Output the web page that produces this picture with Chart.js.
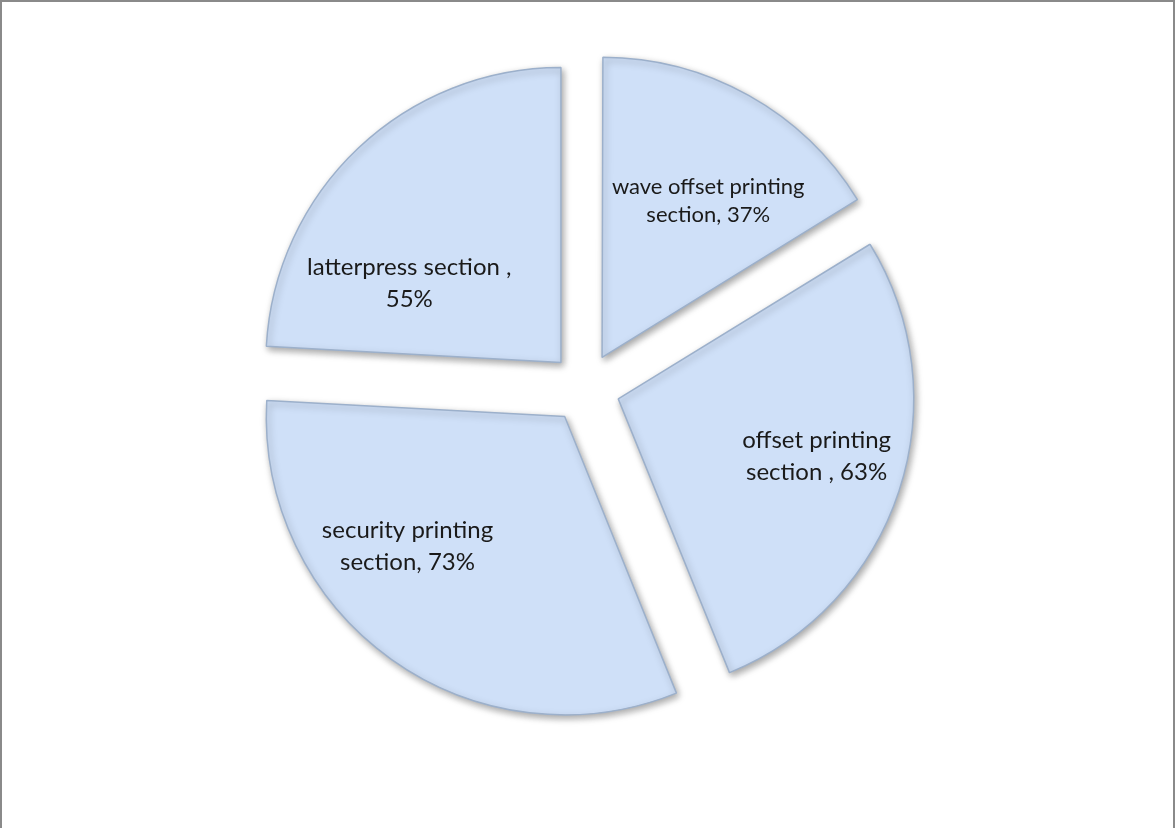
<!DOCTYPE html>
<html lang="en">
<head>
  <meta charset="UTF-8">
  <title>Printing Sections</title>
  <style>
    body {
      margin: 0;
      background: #ffffff;
    }

    .wrap {
      position: relative;
      width: 1175px;
      height: 828px;
    }

    .frame {
      position: absolute;
      left: 0;
      top: 0;
      width: 1171px;
      height: 826px;
      border-top: 2px solid #8a8a8a;
      border-left: 2px solid #8a8a8a;
      border-right: 2px solid #8a8a8a;
      pointer-events: none;
    }
  </style>
</head>
<body>
  <div class="wrap">
    <canvas id="pieChart" width="1175" height="828"></canvas>
    <div class="frame"></div>
  </div>

  <script src="https://cdn.jsdelivr.net/npm/chart.js"></script>
  <script>
    // data
    const sections = ['wave offset printing section', 'offset printing section ', 'security printing section', 'latterpress section '];
    const percents = [37, 63, 73, 55];
    const labelLines = [
      ['wave offset printing', 'section, 37%'],
      ['offset printing', 'section , 63%'],
      ['security printing', 'section, 73%'],
      ['latterpress section ,', '55%']
    ];

    // label placement inside each slice (angle shift in degrees, distance as share of radius)
    const labelShift = [5, -2, 15, -19];
    const labelDist = [0.64, 0.70, 0.69, 0.58];
    const labelFont = [22, 24, 24, 24];
    const labelLead = [28, 32, 32, 32];

    // soft shadow under the slices
    const shadowPlugin = {
      id: 'shadow',
      beforeDatasetsDraw(chart) {
        const c = chart.ctx;
        c.save();
        c.shadowColor = 'rgba(0, 0, 0, 0.35)';
        c.shadowBlur = 7;
        c.shadowOffsetX = 2;
        c.shadowOffsetY = 3;
      },
      afterDatasetsDraw(chart) {
        chart.ctx.restore();
      }
    };

    // text in the slices
    const sliceLabels = {
      id: 'sliceLabels',
      afterDraw(chart) {
        const c = chart.ctx;
        const meta = chart.getDatasetMeta(0);
        meta.data.forEach((arc, i) => {
          const mid = (arc.startAngle + arc.endAngle) / 2;
          // chart.js v4 moves an arc out by offset / 4
          const off = arc.options.offset / 4;
          const vx = arc.x + Math.cos(mid) * off;
          const vy = arc.y + Math.sin(mid) * off;
          const a = mid + labelShift[i] * Math.PI / 180;
          const d = arc.outerRadius * labelDist[i];
          const x = vx + Math.cos(a) * d;
          const y = vy + Math.sin(a) * d;
          c.save();
          c.font = labelFont[i] + 'px Lato, "Open Sans", sans-serif';
          c.fillStyle = '#1a1a1a';
          c.textAlign = 'center';
          c.textBaseline = 'middle';
          const lines = labelLines[i];
          lines.forEach((t, k) => {
            c.fillText(t, x, y + (k - (lines.length - 1) / 2) * labelLead[i]);
          });
          c.restore();
        });
      }
    };

    const ctx = document.getElementById('pieChart').getContext('2d');

    function sliceFill(context) {
      const chart = context.chart;
      const arc = context.element;
      if (!chart.chartArea || !arc || !arc.outerRadius) {
        return '#cfe0f8';
      }
      const g = chart.ctx.createRadialGradient(arc.x, arc.y, 0, arc.x, arc.y, arc.outerRadius + 40);
      g.addColorStop(0, '#d4e4fb');
      g.addColorStop(0.85, '#cfe0f8');
      g.addColorStop(1, '#bcd0ec');
      return g;
    }

    new Chart(ctx, {
      type: 'pie',
      data: {
        labels: sections,
        datasets: [{
          data: percents,
          backgroundColor: sliceFill,
          borderColor: '#9cb0cb',
          borderWidth: 1.5,
          offset: 140
        }]
      },
      options: {
        responsive: false,
        animation: false,
        radius: 295,
        layout: {
          padding: { left: 0, right: 5, top: 0, bottom: 52 }
        },
        plugins: {
          legend: { display: false },
          tooltip: { enabled: false },
          title: { display: false }
        }
      },
      plugins: [shadowPlugin, sliceLabels]
    });
  </script>
</body>
</html>
